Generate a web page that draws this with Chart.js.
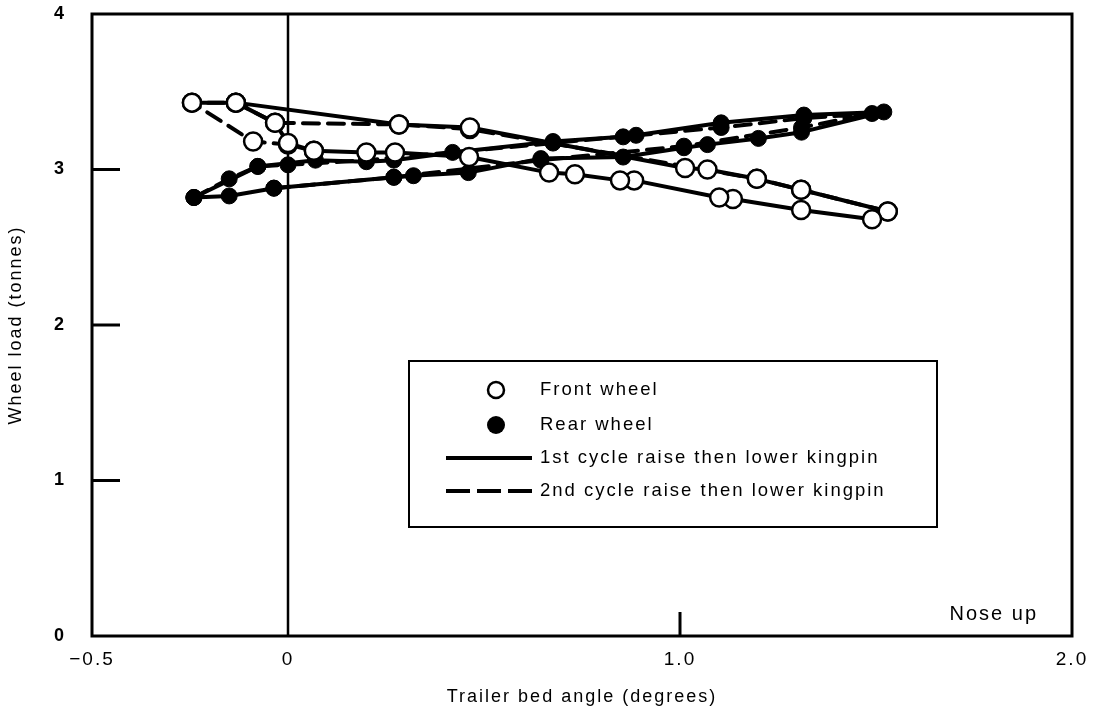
<!DOCTYPE html>
<html>
<head>
<meta charset="utf-8">
<script src="https://cdn.jsdelivr.net/npm/chart.js@4/dist/chart.umd.min.js"></script>
<style>
html,body{margin:0;padding:0;background:#fff;}
</style>
</head>
<body>
<canvas id="grafico" width="1099" height="713"></canvas>
<script>
// front wheel, 1st cycle (solid)
var frontX1 = [-0.245,-0.133,0.283,0.464,1.013,1.07,1.196,1.309,1.53,1.49,1.309,1.135,1.10,0.883,0.847,0.732,0.666,0.462,0.273,0.20,0.066,0.0,-0.033,-0.133];
var frontY1 = [3.43,3.43,3.29,3.27,3.01,3.00,2.94,2.87,2.73,2.68,2.74,2.81,2.82,2.93,2.93,2.97,2.98,3.08,3.11,3.11,3.12,3.17,3.30,3.43];
// front wheel, 2nd cycle (dashed)
var frontX2 = [0.066,0.0,-0.089,-0.245,-0.133,-0.033,0.283,0.464,1.196,1.309,1.53];
var frontY2 = [3.12,3.16,3.18,3.43,3.43,3.30,3.29,3.26,2.94,2.87,2.73];
// rear wheel, 1st cycle (solid)
var rearX1 = [-0.24,-0.15,-0.036,0.27,0.32,0.46,0.645,0.855,1.01,1.07,1.20,1.31,1.52,1.316,1.105,0.888,0.855,0.676,0.42,0.27,0.20,0.07,-0.077,-0.24];
var rearY1 = [2.82,2.83,2.88,2.95,2.96,2.98,3.07,3.08,3.14,3.16,3.20,3.24,3.37,3.35,3.30,3.22,3.21,3.18,3.11,3.06,3.05,3.06,3.02,2.82];
// rear wheel, 2nd cycle (dashed)
var rearX2 = [-0.036,0.27,0.645,1.01,1.31,1.49,1.316,1.105,0.676,0.20,0.0,-0.077,-0.15,-0.24];
var rearY2 = [2.88,2.95,3.06,3.15,3.27,3.36,3.33,3.27,3.17,3.06,3.03,3.02,2.94,2.82];

var xTicks = [-0.5, 0, 1.0, 2.0];
var xTickLabels = ["\u22120.5", "0", "1.0", "2.0"];
var yTicks = [0, 1, 2, 3, 4];
var innerYTicks = [1, 2, 3];
var innerXTicks = [1.0];
var legendLabels = ["Front wheel", "Rear wheel", "1st cycle raise then lower kingpin", "2nd cycle raise then lower kingpin"];

var fuente = "'Liberation Sans', Arial, sans-serif";

function puntos(xs, ys){
	return xs.map(function(x, i){ return {x: x, y: ys[i]}; });
}

var abierto = {pointBackgroundColor: "#fff", pointBorderColor: "#000", pointBorderWidth: 2.5, pointRadius: 9};
var lleno = {pointBackgroundColor: "#000", pointBorderColor: "#000", pointBorderWidth: 1, pointRadius: 8};

function serie(label, xs, ys, marca, guiones){
	return Object.assign({
		label: label,
		data: puntos(xs, ys),
		showLine: true,
		borderColor: "#000",
		borderWidth: 4,
		borderDash: guiones,
		borderJoinStyle: "round",
		borderCapStyle: "round",
		tension: 0
	}, marca);
}

var datos = {
	datasets: [
		serie("Front wheel 1st", frontX1, frontY1, abierto, []),
		serie("Rear wheel 1st", rearX1, rearY1, lleno, []),
		serie("Front wheel 2nd", frontX2, frontY2, abierto, [16, 9]),
		serie("Rear wheel 2nd", rearX2, rearY2, lleno, [16, 9])
	]
};

var marco = {
	id: "marco",
	beforeDraw: function(chart){
		chart.ctx.letterSpacing = "2px";
	},
	beforeDatasetsDraw: function(chart){
		var ctx = chart.ctx, a = chart.chartArea;
		var sx = chart.scales.x, sy = chart.scales.y;
		ctx.save();
		ctx.strokeStyle = "#000";
		ctx.lineWidth = 3;
		ctx.strokeRect(a.left, a.top, a.right - a.left, a.bottom - a.top);
		// zero line
		ctx.lineWidth = 2.5;
		ctx.beginPath();
		ctx.moveTo(sx.getPixelForValue(0), a.top);
		ctx.lineTo(sx.getPixelForValue(0), a.bottom);
		ctx.stroke();
		// inward ticks
		ctx.lineWidth = 3;
		innerYTicks.forEach(function(v){
			var py = sy.getPixelForValue(v);
			ctx.beginPath();
			ctx.moveTo(a.left, py);
			ctx.lineTo(a.left + 28, py);
			ctx.stroke();
		});
		innerXTicks.forEach(function(v){
			var px = sx.getPixelForValue(v);
			ctx.beginPath();
			ctx.moveTo(px, a.bottom);
			ctx.lineTo(px, a.bottom - 24);
			ctx.stroke();
		});
		ctx.restore();
	},
	afterDraw: function(chart){
		var ctx = chart.ctx, a = chart.chartArea;
		ctx.save();
		ctx.letterSpacing = "2px";
		ctx.fillStyle = "#000";
		ctx.font = "20px " + fuente;
		ctx.textAlign = "right";
		ctx.textBaseline = "middle";
		ctx.fillText("Nose up", a.right - 34, a.bottom - 22);

		// legend box
		var bx = 409, by = 361, bw = 528, bh = 166;
		ctx.lineWidth = 2;
		ctx.strokeStyle = "#000";
		ctx.strokeRect(bx, by, bw, bh);
		var filas = [390, 425, 458, 491];
		var tx = 540, mx = 496, l0 = 446, l1 = 532;
		ctx.textAlign = "left";
		ctx.font = "18.5px " + fuente;
		legendLabels.forEach(function(t, i){
			ctx.fillText(t, tx, filas[i]);
		});
		// markers
		ctx.lineWidth = 2.5;
		ctx.beginPath();
		ctx.arc(mx, filas[0], 8, 0, Math.PI * 2);
		ctx.fillStyle = "#fff";
		ctx.fill();
		ctx.stroke();
		ctx.beginPath();
		ctx.arc(mx, filas[1], 9, 0, Math.PI * 2);
		ctx.fillStyle = "#000";
		ctx.fill();
		ctx.lineWidth = 4;
		ctx.beginPath();
		ctx.moveTo(l0, filas[2]);
		ctx.lineTo(l1, filas[2]);
		ctx.stroke();
		ctx.setLineDash([24, 7]);
		ctx.beginPath();
		ctx.moveTo(l0, filas[3]);
		ctx.lineTo(l1, filas[3]);
		ctx.stroke();
		ctx.restore();
	}
};

var canvas = document.getElementById("grafico").getContext("2d");
window.grafico = new Chart(canvas, {
	type: "scatter",
	data: datos,
	plugins: [marco],
	options: {
		responsive: false,
		animation: false,
		devicePixelRatio: 1,
		layout: {padding: {top: 14, right: 27, left: 0, bottom: 0}},
		plugins: {
			legend: {display: false},
			tooltip: {enabled: false}
		},
		scales: {
			x: {
				type: "linear",
				min: -0.5,
				max: 2.0,
				afterBuildTicks: function(axis){
					axis.ticks = xTicks.map(function(v){ return {value: v}; });
				},
				afterFit: function(axis){
					axis.height = 77;
					axis.paddingLeft = 0;
					axis.paddingRight = 0;
				},
				ticks: {
					color: "#000",
					font: {family: fuente, size: 19},
					padding: 12,
					maxRotation: 0,
					callback: function(v){
						var i = xTicks.indexOf(v);
						return i >= 0 ? xTickLabels[i] : "";
					}
				},
				grid: {display: false, drawTicks: false},
				border: {display: false},
				title: {
					display: true,
					text: "Trailer bed angle (degrees)",
					color: "#000",
					font: {family: fuente, size: 18},
					padding: {top: 0, bottom: 5}
				}
			},
			y: {
				min: 0,
				max: 4,
				afterBuildTicks: function(axis){
					axis.ticks = yTicks.map(function(v){ return {value: v}; });
				},
				afterFit: function(axis){
					axis.width = 92;
					axis.paddingTop = 0;
					axis.paddingBottom = 0;
				},
				ticks: {
					color: "#000",
					font: {family: fuente, size: 18, weight: "bold"},
					padding: 26
				},
				grid: {display: false, drawTicks: false},
				border: {display: false},
				title: {
					display: true,
					text: "Wheel load (tonnes)",
					color: "#000",
					font: {family: fuente, size: 18},
					padding: {top: 5, bottom: 0}
				}
			}
		}
	}
});
</script>
</body>
</html>
